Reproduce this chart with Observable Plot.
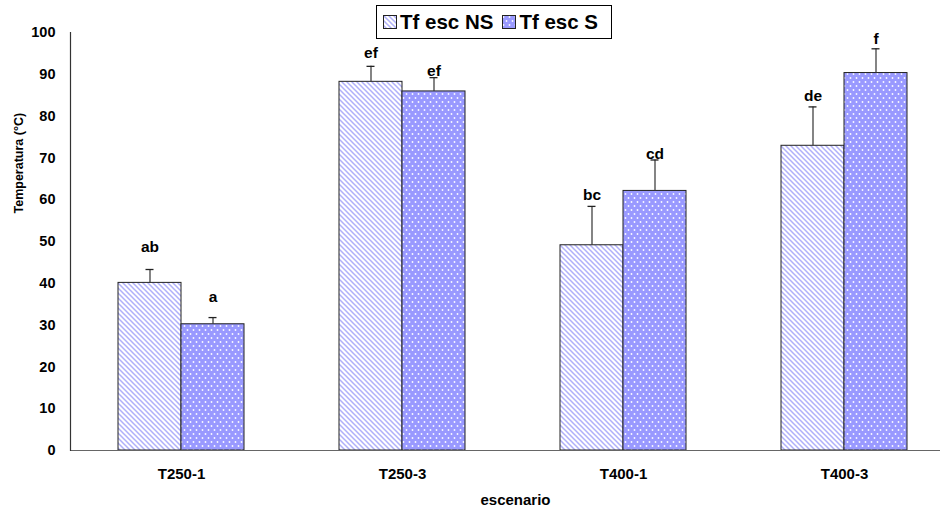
<!DOCTYPE html>
<html>
<head>
<meta charset="utf-8">
<script src="https://cdn.jsdelivr.net/npm/d3@7"></script>
<script src="https://cdn.jsdelivr.net/npm/@observablehq/plot@0.6"></script>
<style>
  html, body { margin: 0; padding: 0; background: #fff; }
  #wrap { position: relative; width: 940px; height: 509px; font-family: "Liberation Sans", Arial, sans-serif; }
  #legend {
    position: absolute; left: 376px; top: 5px; width: 236px; height: 34px;
    border: 1px solid #000; background: #fff; box-sizing: border-box;
    display: flex; align-items: center; padding-left: 6px;
    font-weight: bold; font-size: 20.5px; color: #000;
  }
  #legend .item { display: flex; align-items: center; margin-right: 9px; }
  #legend svg { margin-right: 3px; }
</style>
</head>
<body>
<div id="wrap"><div id="chart"></div><div id="legend"></div></div>
<script>
const categories = ["T250-1", "T250-3", "T400-1", "T400-3"];
const series = ["Tf esc NS", "Tf esc S"];
const nsMean = [40.1, 88.2, 49.1, 72.9];
const nsUpper = [43.3, 91.9, 58.4, 82.2];
const sMean = [30.2, 85.9, 62.1, 90.3];
const sUpper = [31.8, 89.2, 69.5, 96.1];
const nsLetters = ["ab", "ef", "bc", "de"];
const sLetters = ["a", "ef", "cd", "f"];
const nsLetterY = [48.6, 95.0, 61.0, 84.9];
const sLetterY = [36.6, 90.7, 71.0, 98.5];
const yTicks = [0, 10, 20, 30, 40, 50, 60, 70, 80, 90, 100];
const yLabel = "Temperatura (°C)";
const xLabel = "escenario";

const ns = categories.map((c, i) => ({cat: c, v: nsMean[i], up: nsUpper[i], lab: nsLetters[i], ly: nsLetterY[i]}));
const s = categories.map((c, i) => ({cat: c, v: sMean[i], up: sUpper[i], lab: sLetters[i], ly: sLetterY[i]}));

function patternDefs(prefix) {
  return `
  <pattern id="${prefix}stripe" patternUnits="userSpaceOnUse" width="5" height="5">
    <rect width="5" height="5" fill="#ffffff"/>
    <path d="M0,0 L5,5 M-2.5,2.5 L2.5,7.5 M2.5,-2.5 L7.5,2.5" stroke="#b0b0fa" stroke-width="1.5"/>
  </pattern>
  <pattern id="${prefix}dots" patternUnits="userSpaceOnUse" width="6" height="8">
    <rect width="6" height="8" fill="#9999ff"/>
    <circle cx="1.5" cy="2" r="0.9" fill="#ffffff" fill-opacity="0.95"/>
    <circle cx="4.5" cy="6" r="0.9" fill="#ffffff" fill-opacity="0.95"/>
  </pattern>`;
}

const defsMark = () => {
  const g = d3.create("svg:defs");
  g.html(patternDefs("p-"));
  return g.node();
};

const font = "Liberation Sans, Arial, sans-serif";
const half = 31.5;

const chart = Plot.plot({
  width: 940,
  height: 509,
  marginLeft: 70,
  marginRight: 0,
  marginTop: 32,
  marginBottom: 59,
  style: {fontFamily: font, background: "#fff", overflow: "visible"},
  x: {domain: categories, range: [70, 954], paddingInner: 0.43, paddingOuter: 0.215, label: null},
  y: {domain: [0, 100], label: null},
  marks: [
    defsMark,
    Plot.barY(ns, {x: "cat", y: "v", fill: "url(#p-stripe)", stroke: "#222", strokeWidth: 1, insetRight: 63}),
    Plot.barY(s, {x: "cat", y: "v", fill: "url(#p-dots)", stroke: "#222", strokeWidth: 1, insetLeft: 63}),
    Plot.ruleX(ns, {x: "cat", y1: "v", y2: "up", dx: -half, stroke: "#333", strokeWidth: 1.2}),
    Plot.ruleX(s, {x: "cat", y1: "v", y2: "up", dx: half, stroke: "#333", strokeWidth: 1.2}),
    Plot.tickY(ns, {x: "cat", y: "up", insetLeft: 27.5, insetRight: 90.5, stroke: "#222", strokeWidth: 1.3}),
    Plot.tickY(s, {x: "cat", y: "up", insetLeft: 90.5, insetRight: 27.5, stroke: "#222", strokeWidth: 1.3}),
    Plot.text(ns, {x: "cat", y: "ly", text: "lab", dx: -half, lineAnchor: "middle", fontWeight: "bold", fontSize: 15.5, fill: "#000"}),
    Plot.text(s, {x: "cat", y: "ly", text: "lab", dx: half, lineAnchor: "middle", fontWeight: "bold", fontSize: 15.5, fill: "#000"}),
    Plot.ruleY([0], {stroke: "#666", strokeWidth: 1.2}),
    Plot.frame({anchor: "left", stroke: "#333", strokeWidth: 1.2}),
    Plot.axisY({ticks: yTicks, tickSize: 0, tickPadding: 15, fontWeight: "bold", fontSize: 14.5, fill: "#000", label: null}),
    Plot.axisX({tickSize: 0, tickPadding: 18, fontWeight: "bold", fontSize: 15, fill: "#000", label: null}),
    Plot.text([yLabel], {frameAnchor: "left", rotate: -90, dx: -52, dy: -28, fontWeight: "bold", fontSize: 12.5, fill: "#000", lineAnchor: "middle"}),
    Plot.text([xLabel], {frameAnchor: "bottom", dx: 10, dy: 50, fontWeight: "bold", fontSize: 15, fill: "#000", lineAnchor: "middle"})
  ]
});
document.getElementById("chart").appendChild(chart);

// Legend
const legend = document.getElementById("legend");
const fills = ["url(#l-stripe)", "url(#l-dots)"];
legend.innerHTML = `<svg width="0" height="0" style="position:absolute"><defs>${patternDefs("l-")}</defs></svg>` +
  series.map((name, i) => `<span class="item"><svg width="14" height="14"><rect x="0.5" y="0.5" width="13" height="13" fill="${fills[i]}" stroke="#222"/></svg><span>${name}</span></span>`).join("");
</script>
</body>
</html>
